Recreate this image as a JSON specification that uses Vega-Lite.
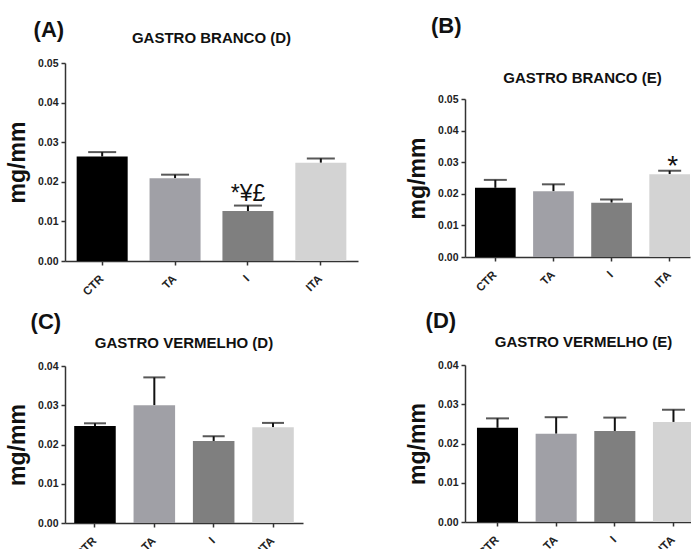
{
  "$schema": "https://vega.github.io/schema/vega-lite/v6.json",
  "padding": {"left": 6, "top": 15, "right": 0, "bottom": 0},
  "background": "white",
  "config": {
    "view": {"stroke": null},
    "font": "Liberation Sans",
    "title": {"font": "Liberation Sans", "fontWeight": "bold", "color": "#111"},
    "axis": {
      "grid": false,
      "domainColor": "#333",
      "domainWidth": 1.5,
      "tickColor": "#333",
      "tickWidth": 1.5,
      "tickSize": 4,
      "labelFont": "Liberation Sans",
      "labelFontWeight": "bold",
      "labelColor": "#222",
      "labelOverlap": false,
      "titleFont": "Liberation Sans",
      "titleFontWeight": "bold",
      "titleColor": "#111"
    },
    "axisY": {"labelFontSize": 10.5, "labelPadding": 3, "titleFontSize": 23, "titlePadding": 8, "format": ".2f", "labelFlush": false},
    "axisX": {"labelFontSize": 11.5, "labelAngle": -45, "labelBaseline": "middle", "labelPadding": 12, "title": null},
    "concat": {"spacing": 48}
  },
  "hconcat": [
    {
      "spacing": 13,
      "vconcat": [
        {
          "title": {"text": "(A)", "anchor": "start", "fontSize": 22, "dx": 27, "offset": -11},
          "vconcat": [
            {
              "title": {"text": "GASTRO BRANCO (D)", "fontSize": 15, "offset": 12, "frame": "group"},
              "width": 293,
              "height": 198,
              "data": {"values": [
                {"group": "CTR", "mean": 0.0264, "err": 0.0275, "sig": ""},
                {"group": "TA", "mean": 0.0209, "err": 0.0218, "sig": ""},
                {"group": "I", "mean": 0.0126, "err": 0.0140, "sig": "*¥£"},
                {"group": "ITA", "mean": 0.0248, "err": 0.0259, "sig": ""}
              ]},
              "encoding": {
                "x": {"field": "group", "type": "nominal", "sort": null, "scale": {"paddingInner": 0.3, "paddingOuter": 0.16}},
                "y": {"field": "mean", "type": "quantitative", "title": "mg/mm", "scale": {"domain": [0, 0.05], "nice": false}, "axis": {"values": [0, 0.01, 0.02, 0.03, 0.04, 0.05]}}
              },
              "layer": [
                {"mark": {"type": "rule", "strokeWidth": 2, "color": "#111"}, "encoding": {"y2": {"field": "err"}}},
                {"mark": {"type": "bar"}, "encoding": {
                  "color": {"field": "group", "type": "nominal", "legend": null, "scale": {"domain": ["CTR", "TA", "I", "ITA"], "range": ["#000000", "#a0a0a6", "#7f7f7f", "#d3d3d3"]}}
                }},
                {"mark": {"type": "tick", "thickness": 2, "size": 28, "color": "#111"}, "encoding": {"y": {"field": "err", "type": "quantitative", "title": "mg/mm", "scale": {"domain": [0, 0.05], "nice": false}, "axis": {"values": [0, 0.01, 0.02, 0.03, 0.04, 0.05]}}}},
                {"mark": {"type": "text", "fontSize": 23, "baseline": "bottom", "dy": 0, "color": "#111"}, "encoding": {"y": {"field": "err", "type": "quantitative", "title": "mg/mm", "scale": {"domain": [0, 0.05], "nice": false}, "axis": {"values": [0, 0.01, 0.02, 0.03, 0.04, 0.05]}}, "text": {"field": "sig"}}}
              ]
            }
          ]
        },
        {
          "title": {"text": "(C)", "anchor": "start", "fontSize": 22, "dx": 24, "offset": 2},
          "vconcat": [
            {
              "title": {"text": "GASTRO VERMELHO (D)", "fontSize": 15, "offset": 10, "frame": "group"},
              "width": 238,
              "height": 157,
              "data": {"values": [
                {"group": "CTR", "mean": 0.0247, "err": 0.0254},
                {"group": "TA", "mean": 0.0300, "err": 0.0371},
                {"group": "I", "mean": 0.0209, "err": 0.0221},
                {"group": "ITA", "mean": 0.0244, "err": 0.0255}
              ]},
              "encoding": {
                "x": {"field": "group", "type": "nominal", "sort": null, "scale": {"paddingInner": 0.3, "paddingOuter": 0.155}},
                "y": {"field": "mean", "type": "quantitative", "title": "mg/mm", "scale": {"domain": [0, 0.04], "nice": false}, "axis": {"values": [0, 0.01, 0.02, 0.03, 0.04]}}
              },
              "layer": [
                {"mark": {"type": "rule", "strokeWidth": 2, "color": "#111"}, "encoding": {"y2": {"field": "err"}}},
                {"mark": {"type": "bar"}, "encoding": {
                  "color": {"field": "group", "type": "nominal", "legend": null, "scale": {"domain": ["CTR", "TA", "I", "ITA"], "range": ["#000000", "#a0a0a6", "#7f7f7f", "#d3d3d3"]}}
                }},
                {"mark": {"type": "tick", "thickness": 2, "size": 22, "color": "#111"}, "encoding": {"y": {"field": "err", "type": "quantitative", "title": "mg/mm", "scale": {"domain": [0, 0.04], "nice": false}, "axis": {"values": [0, 0.01, 0.02, 0.03, 0.04]}}}}
              ]
            }
          ]
        }
      ]
    },
    {
      "spacing": 16,
      "vconcat": [
        {
          "spacing": 7,
          "vconcat": [
            {
              "title": {"text": "(B)", "anchor": "start", "fontSize": 22, "dx": -34, "offset": 25},
              "width": 225,
              "height": 1,
              "data": {"values": []},
              "mark": {"type": "point", "opacity": 0},
              "encoding": {}
            },
            {
              "title": {"text": "GASTRO BRANCO (E)", "fontSize": 15, "offset": 8, "frame": "group", "dx": 5},
              "width": 225,
              "height": 158,
              "data": {"values": [
                {"group": "CTR", "mean": 0.0219, "err": 0.0244, "sig": ""},
                {"group": "TA", "mean": 0.0208, "err": 0.0230, "sig": ""},
                {"group": "I", "mean": 0.0172, "err": 0.0182, "sig": ""},
                {"group": "ITA", "mean": 0.0262, "err": 0.0273, "sig": "*"}
              ]},
              "encoding": {
                "x": {"field": "group", "type": "nominal", "sort": null, "scale": {"paddingInner": 0.3, "paddingOuter": 0.086, "align": 1}},
                "y": {"field": "mean", "type": "quantitative", "title": "mg/mm", "scale": {"domain": [0, 0.05], "nice": false}, "axis": {"values": [0, 0.01, 0.02, 0.03, 0.04, 0.05]}}
              },
              "layer": [
                {"mark": {"type": "rule", "strokeWidth": 2, "color": "#111"}, "encoding": {"y2": {"field": "err"}}},
                {"mark": {"type": "bar"}, "encoding": {
                  "color": {"field": "group", "type": "nominal", "legend": null, "scale": {"domain": ["CTR", "TA", "I", "ITA"], "range": ["#000000", "#a0a0a6", "#7f7f7f", "#d3d3d3"]}}
                }},
                {"mark": {"type": "tick", "thickness": 2, "size": 23, "color": "#111"}, "encoding": {"y": {"field": "err", "type": "quantitative", "title": "mg/mm", "scale": {"domain": [0, 0.05], "nice": false}, "axis": {"values": [0, 0.01, 0.02, 0.03, 0.04, 0.05]}}}},
                {"mark": {"type": "text", "fontSize": 28, "baseline": "bottom", "dy": 10, "dx": 3, "color": "#111"}, "encoding": {"y": {"field": "err", "type": "quantitative", "title": "mg/mm", "scale": {"domain": [0, 0.05], "nice": false}, "axis": {"values": [0, 0.01, 0.02, 0.03, 0.04, 0.05]}}, "text": {"field": "sig"}}}
              ]
            }
          ]
        },
        {
          "title": {"text": "(D)", "anchor": "start", "fontSize": 22, "dx": 19, "offset": 2},
          "vconcat": [
            {
              "title": {"text": "GASTRO VERMELHO (E)", "fontSize": 15, "offset": 10, "frame": "group", "dx": 4},
              "width": 229,
              "height": 157,
              "data": {"values": [
                {"group": "CTR", "mean": 0.0240, "err": 0.0264},
                {"group": "TA", "mean": 0.0225, "err": 0.0267},
                {"group": "I", "mean": 0.0232, "err": 0.0266},
                {"group": "ITA", "mean": 0.0255, "err": 0.0286}
              ]},
              "encoding": {
                "x": {"field": "group", "type": "nominal", "sort": null, "scale": {"paddingInner": 0.3, "paddingOuter": 0.102, "align": 1}},
                "y": {"field": "mean", "type": "quantitative", "title": "mg/mm", "scale": {"domain": [0, 0.04], "nice": false}, "axis": {"values": [0, 0.01, 0.02, 0.03, 0.04]}}
              },
              "layer": [
                {"mark": {"type": "rule", "strokeWidth": 2, "color": "#111"}, "encoding": {"y2": {"field": "err"}}},
                {"mark": {"type": "bar"}, "encoding": {
                  "color": {"field": "group", "type": "nominal", "legend": null, "scale": {"domain": ["CTR", "TA", "I", "ITA"], "range": ["#000000", "#a0a0a6", "#7f7f7f", "#d3d3d3"]}}
                }},
                {"mark": {"type": "tick", "thickness": 2, "size": 23, "color": "#111"}, "encoding": {"y": {"field": "err", "type": "quantitative", "title": "mg/mm", "scale": {"domain": [0, 0.04], "nice": false}, "axis": {"values": [0, 0.01, 0.02, 0.03, 0.04]}}}}
              ]
            }
          ]
        }
      ]
    }
  ]
}
